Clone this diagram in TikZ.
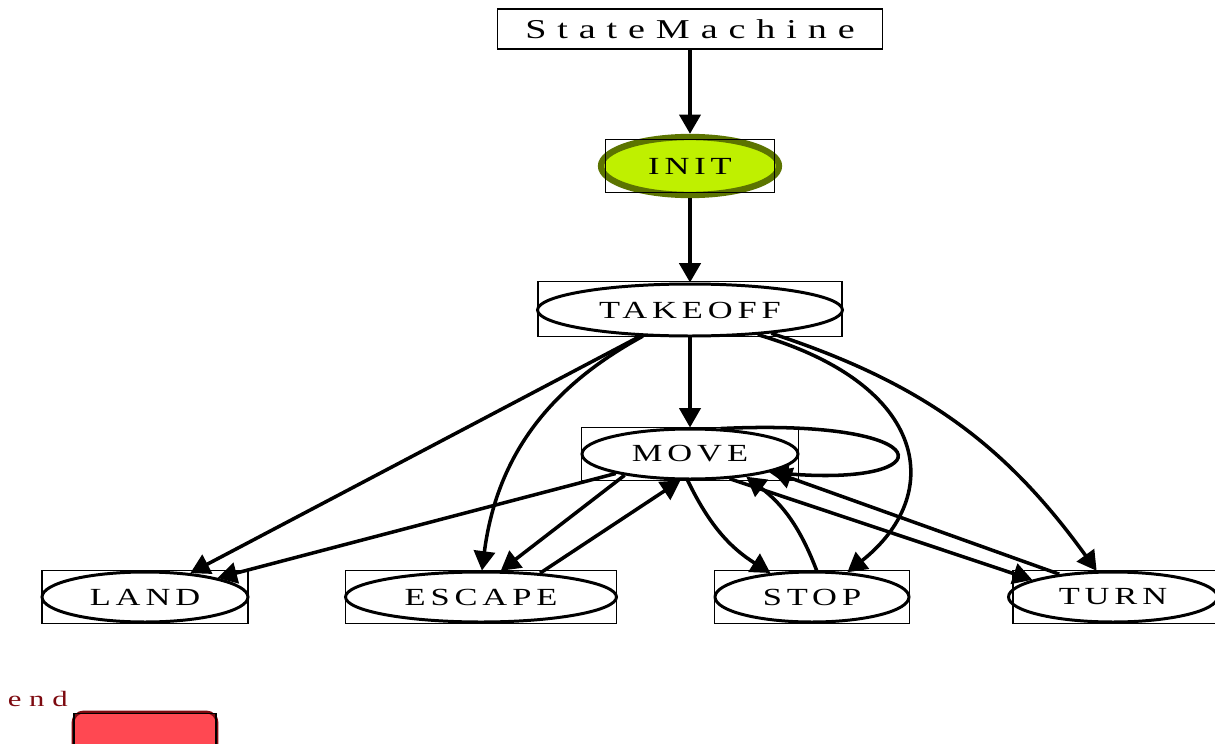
\documentclass[tikz,border=0pt]{standalone}
\usepackage{fontspec}
\setmainfont{Liberation Serif}
\newfontfamily\statefont[LetterSpace=20,FakeStretch=1.4]{Liberation Serif}
\newfontfamily\titlefont[LetterSpace=40,FakeStretch=1.4]{Liberation Serif}
\newfontfamily\endfont[LetterSpace=35,FakeStretch=1.4]{Liberation Serif}
\usetikzlibrary{arrows.meta,shapes.geometric}

\begin{document}
\begin{tikzpicture}[x=0.02cm, y=0.02cm,
  frame/.style={draw, line width=0.8pt, inner sep=0pt, minimum height=1.07cm},
  state/.style={ellipse, draw, line width=1.7pt, inner sep=0pt, minimum height=1.0cm,
    font=\statefont\fontsize{14}{16}\selectfont},
  edge/.style={line width=2pt, -{Triangle[length=11pt,width=12pt]}}]

\definecolor{cInit}{RGB}{191,240,0}
\definecolor{cInitRim}{RGB}{92,116,0}
\definecolor{cEnd}{RGB}{255,72,82}
\definecolor{cEndRim}{RGB}{125,10,16}

\useasboundingbox (0,0) rectangle (1215,-744);
\clip (0,0) rectangle (1215,-744);

%% top: the machine itself
\node[draw, line width=1pt, minimum width=7.7cm, minimum height=0.8cm, inner sep=0pt,
  font=\titlefont\fontsize{15.5}{17}\selectfont] (sm) at (690,-29) {StateMachine};

%% INIT (filled, heavy rim)
\node[ellipse, fill=cInit, draw=cInitRim, line width=3.6pt, inner sep=0pt,
  minimum width=3.56cm, minimum height=1.16cm,
  font=\statefont\fontsize{14}{16}\selectfont] (init) at (690,-166) {INIT};
\node[frame, minimum width=3.38cm] (initbox) at (690,-166) {};

%% TAKEOFF and MOVE
\node[state, minimum width=6.1cm, minimum height=1.04cm] (takeoff) at (690,-310) {TAKEOFF};
\node[frame, minimum width=6.08cm, minimum height=1.1cm] (takeoffbox) at (690,-309) {};
\node[state, minimum width=4.32cm] (move) at (690,-454) {MOVE};
\node[frame, minimum width=4.34cm] (movebox) at (690,-454) {};

%% bottom row
\node[state, minimum width=4.12cm] (land) at (145,-597) {LAND};
\node[frame, minimum width=4.12cm] (landbox) at (145,-597) {};
\node[state, minimum width=5.42cm] (escape) at (481,-597) {ESCAPE};
\node[frame, minimum width=5.42cm] (escapebox) at (481,-597) {};
\node[state, minimum width=3.88cm] (stop) at (812,-597) {STOP};
\node[frame, minimum width=3.9cm] (stopbox) at (812,-597) {};
\node[state, minimum width=4.18cm] (turn) at (1113,-597) {TURN};
\node[frame, minimum width=4.08cm] (turnbox) at (1115,-597) {};

%% end marker
\node[rounded corners=6pt, fill=cEnd, draw=cEndRim, line width=1.6pt,
  minimum width=2.88cm, minimum height=1.08cm] (endstate) at (145,-739) {};
\node[draw, line width=0.6pt, minimum width=2.84cm, minimum height=1.06cm,
  inner sep=0pt] (endbox) at (145,-740) {};
\node[font=\endfont\fontsize{12.5}{14}\selectfont, text=cEndRim, anchor=south east,
  inner sep=0pt] (endlabel) at (68,-707) {end};

%% straight edges
\draw[edge, line width=2.3pt] (sm) -- (init);
\draw[edge, line width=2.3pt] (init) -- (takeoff);
\draw[edge] (takeoff) -- (move);
\draw[edge] (takeoff) -- (land);
\draw[edge] (move) -- (land);
\draw[edge] (move.198) -- (escape.53);
\draw[edge] (escape.22) -- (move.250);
\draw[edge] (move.-32) -- (turn.168);
\draw[edge] (turn.157) -- (move.-12);

%% bent edges
\draw[edge] (takeoff.209) to[bend right=27] (escape.88);
\draw[edge] (takeoff.-20) .. controls (930,-385) and (945,-495) .. (stop.35);
\draw[edge] (takeoff.-16) to[bend left=18] (turn.122);
\draw[edge] (move.265) to[bend right=16] (stop.150);
\draw[edge] (stop.80) to[bend right=16] (move.-22);

%% MOVE loops on itself
\draw[edge] (move.40) .. controls (945,-418) and (945,-487) .. (move.-13);

\end{tikzpicture}
\end{document}
